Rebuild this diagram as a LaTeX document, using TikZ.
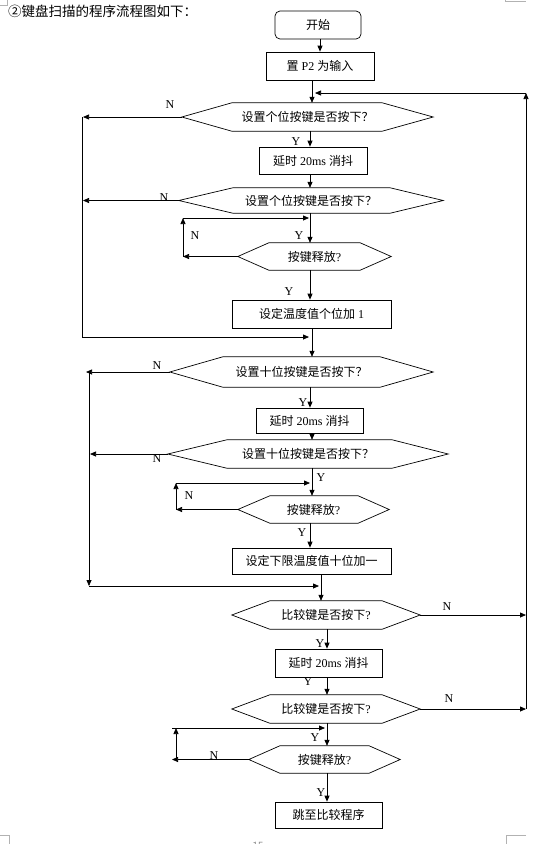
\documentclass[tikz,border=0pt]{standalone}
\usepackage{fontspec}
\setmainfont{Liberation Serif}
\newfontfamily\cjk{Noto Sans CJK SC}
\usetikzlibrary{arrows.meta}
\newcommand\zh[1]{{\cjk #1}}
\tikzset{
 lbl/.style={font=\fontsize{12}{12}\selectfont, inner sep=0},
 boxn/.style={draw, line width=0.7pt, inner sep=0, font=\fontsize{12}{14}\selectfont},
 hexn/.style={inner sep=0, font=\fontsize{12}{14}\selectfont},
 arr/.style={-{Triangle[length=6pt,width=5pt]}, line width=0.75pt},
 ln/.style={line width=0.75pt},
 pagemark/.style={draw=gray!60, line width=0.6pt}
}
\newcommand\hexdraw[3]{\draw[line width=0.7pt] (#1.west) -- ([xshift=#2pt]#1.north west) -- ([xshift=-#3pt]#1.north east) -- (#1.east) -- ([xshift=-#3pt]#1.south east) -- ([xshift=#2pt]#1.south west) -- cycle;}
\begin{document}
\begin{tikzpicture}[x=1pt,y=-1pt]
\useasboundingbox (0,0) rectangle (551,844);
% page marks
\draw[pagemark] (0,5) -- (7,5) -- (7,0);
\draw[pagemark] (505,0) -- (505,1.5) -- (526,1.5);
\draw[pagemark] (0,835) -- (9,835) -- (9,844);
\draw[pagemark] (526,835) -- (506,835) -- (506,844);
\node[font=\sffamily\fontsize{11}{11}\selectfont, text=gray, inner sep=0] (pg) at (258,846) {15};
% title
\node[anchor=west, font=\cjk\fontsize{13.5}{14}\selectfont, inner sep=0] (title) at (8,11) {②键盘扫描的程序流程图如下：};
% column coordinates
\coordinate (x308) at (309,0);
\coordinate (x310) at (310,0);
\coordinate (x312) at (312,0);
\coordinate (x315) at (315,0);
\coordinate (x319) at (319,0);
\coordinate (x321) at (321,0);
\coordinate (x325) at (325,0);
\coordinate (x327) at (327,0);
\coordinate (L83) at (83,0);
\coordinate (L86) at (86,0);
\coordinate (L90) at (90,0);
\coordinate (L172) at (172,0);
% nodes
\node[boxn, rounded corners=5pt, minimum width=86pt, minimum height=28pt] (start) at (318,25) {\zh{开始}};
\node[boxn, minimum width=108pt, minimum height=28pt] (p2) at (320,66) {\zh{置} P2 \zh{为输入}};
\node[hexn, minimum width=251pt, minimum height=28pt] (d1) at (307.5,117) {\zh{设置个位按键是否按下？}}; \hexdraw{d1}{50}{51}
\node[boxn, minimum width=108pt, minimum height=27pt] (b1) at (313,160.5) {\zh{延时} 20ms \zh{消抖}};
\node[hexn, minimum width=264pt, minimum height=25pt] (d2) at (311,200.5) {\zh{设置个位按键是否按下？}}; \hexdraw{d2}{54}{53}
\node[hexn, minimum width=153pt, minimum height=27pt] (d3) at (314.5,256.5) {\zh{按键释放}?}; \hexdraw{d3}{31}{31}
\node[boxn, minimum width=159pt, minimum height=28pt] (b2) at (311.5,314) {\zh{设定温度值个位加} 1};
\node[hexn, minimum width=263pt, minimum height=30pt] (d4) at (301.5,372) {\zh{设置十位按键是否按下？}}; \hexdraw{d4}{53}{53}
\node[boxn, minimum width=107pt, minimum height=25pt] (b3) at (309.5,420.5) {\zh{延时} 20ms \zh{消抖}};
\node[hexn, minimum width=280pt, minimum height=28pt] (d5) at (308,454) {\zh{设置十位按键是否按下？}}; \hexdraw{d5}{59}{56}
\node[hexn, minimum width=151pt, minimum height=27pt] (d6) at (313.5,509.5) {\zh{按键释放}?}; \hexdraw{d6}{32}{31}
\node[boxn, minimum width=159pt, minimum height=26pt] (b4) at (311.5,561) {\zh{设定下限温度值十位加一}};
\node[hexn, minimum width=188pt, minimum height=28pt] (d7) at (326,615) {\zh{比较键是否按下}?}; \hexdraw{d7}{38}{38}
\node[boxn, minimum width=107pt, minimum height=28pt] (b5) at (328.5,663) {\zh{延时} 20ms \zh{消抖}};
\node[hexn, minimum width=188pt, minimum height=28pt] (d8) at (326,709) {\zh{比较键是否按下}?}; \hexdraw{d8}{38}{38}
\node[hexn, minimum width=151pt, minimum height=27pt] (d9) at (324.5,759.5) {\zh{按键释放}?}; \hexdraw{d9}{31}{31}
\node[boxn, minimum width=107pt, minimum height=26pt] (b6) at (328.5,815) {\zh{跳至比较程序}\hspace{12pt}};
% main flow
\draw[arr] (start.south -| p2) -- (p2.north);
\draw[arr] (p2.south -| x312) -- (d1.north -| x312);
\draw[arr] (d1.south -| x310) -- (b1.north -| x310);
\draw[arr] (b1.south -| x310) -- (d2.north -| x310);
\draw[arr] (d2.south -| x310) -- (d3.north -| x310);
\draw[arr] (d3.south -| x310) -- (b2.north -| x310);
\draw[arr] (b2.south -| x312) -- (d4.north -| x312);
\draw[arr] (d4.south -| x310) -- (b3.north -| x310);
\draw[arr] (b3.south -| x312) -- (d5.north -| x312);
\draw[arr] (d5.south -| x312) -- (d6.north -| x312);
\draw[arr] (d6.south -| x310) -- (b4.north -| x310);
\draw[arr] (b4.south -| x321) -- (d7.north -| x321);
\draw[arr] (d7.south -| x327) -- (b5.north -| x327);
\draw[arr] (b5.south -| x327) -- (d8.north -| x327);
\draw[arr] (d8.south -| x327) -- (d9.north -| x327);
\draw[arr] (d9.south -| x327) -- (b6.north -| x327);
% left loops, first block
\coordinate (j1) at (82,337);
\draw[arr] (d1.west) -- (d1.west -| L83);
\draw[arr] (d2.west) -- (d2.west -| L83);
\draw[ln] (d1.west -| j1) -- (j1);
\draw[arr] (j1) -- (j1 -| x308);
\coordinate (k1) at (183,218);
\draw[arr] (d3.west) -- (d3.west -| k1);
\draw[arr] (d3.west -| k1) -- (k1);
\draw[arr] (k1) -- (k1 -| x308);
% second block
\coordinate (j2) at (89,586);
\draw[arr] (d4.west) -- (d4.west -| L86);
\draw[arr] (d5.west) -- (d5.west -| L90);
\draw[arr] (d4.west -| j2) -- (j2);
\draw[arr] (j2) -- (j2 -| x319);
\coordinate (k2) at (176,483);
\draw[arr] (d6.west) -- (d6.west -| k2);
\draw[arr] (d6.west -| k2) -- (k2);
\draw[arr] (k2) -- (k2 -| x310);
% third block
\coordinate (k3) at (176,728);
\draw[arr] (d9.west) -- (d9.west -| L172);
\draw[arr] (d9.west -| k3) -- (k3);
\draw[arr] (k3 -| L172) -- (k3 -| x325);
% right return
\coordinate (r) at (526,93);
\draw[arr] (d7.east) -- (d7.east -| r);
\draw[arr] (d8.east) -- (d8.east -| r);
\draw[arr] (d8.east -| r) -- (r);
\draw[arr] (r) -- (r -| x315);
% labels
\node[lbl] (n1) at (170,105) {N};
\node[lbl] (y1) at (296,142) {Y};
\node[lbl] (n2) at (164,198) {N};
\node[lbl] (n3) at (195,236) {N};
\node[lbl] (y3) at (299,236) {Y};
\node[lbl] (y4) at (289,292) {Y};
\node[lbl] (n4) at (157,366) {N};
\node[lbl] (y5) at (303,403) {Y};
\node[lbl] (n5) at (157,459) {N};
\node[lbl] (y6) at (321,478) {Y};
\node[lbl] (n6) at (189,496) {N};
\node[lbl] (y7) at (302,533) {Y};
\node[lbl] (n7) at (447,607) {N};
\node[lbl] (y8) at (320,644) {Y};
\node[lbl] (y9) at (308,682) {Y};
\node[lbl] (n8) at (449,699) {N};
\node[lbl] (y10) at (315,738) {Y};
\node[lbl] (n9) at (214,756) {N};
\node[lbl] (y11) at (321,793) {Y};
\end{tikzpicture}
\end{document}
